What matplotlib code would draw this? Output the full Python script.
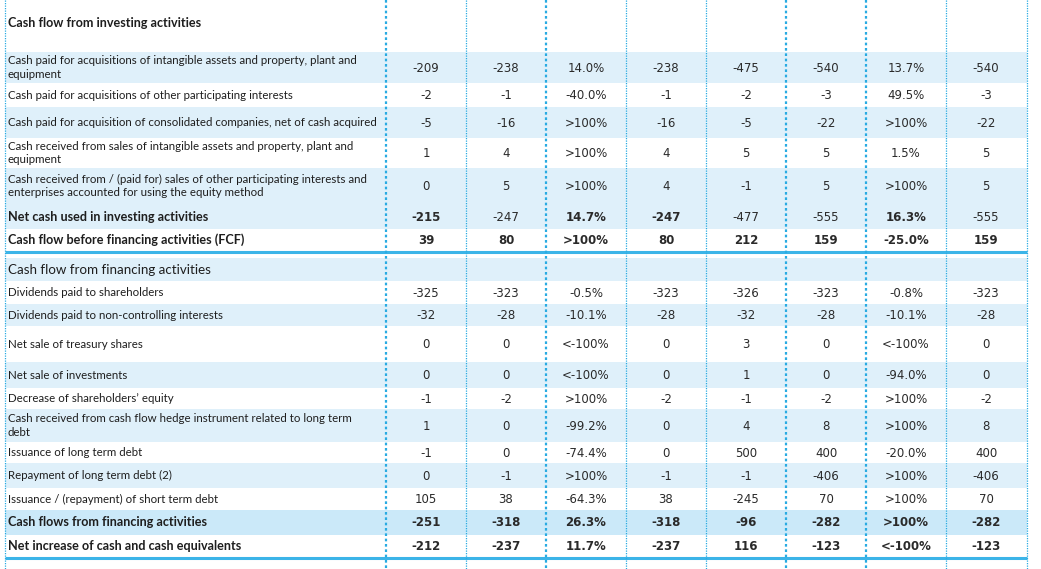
import matplotlib
matplotlib.use("Agg")
import matplotlib.pyplot as plt
from matplotlib.patches import Rectangle

plt.rcParams['font.family'] = ['Lato', 'DejaVu Sans']

# ---------------- data ----------------
labels = [
    "Cash flow from investing activities",
    "Cash paid for acquisitions of intangible assets and property, plant and\nequipment",
    "Cash paid for acquisitions of other participating interests",
    "Cash paid for acquisition of consolidated companies, net of cash acquired",
    "Cash received from sales of intangible assets and property, plant and\nequipment",
    "Cash received from / (paid for) sales of other participating interests and\nenterprises accounted for using the equity method",
    "Net cash used in investing activities",
    "Cash flow before financing activities (FCF)",
    "Cash flow from financing activities",
    "Dividends paid to shareholders",
    "Dividends paid to non-controlling interests",
    "Net sale of treasury shares",
    "Net sale of investments",
    "Decrease of shareholders\u2019 equity",
    "Cash received from cash flow hedge instrument related to long term\ndebt",
    "Issuance of long term debt",
    "Repayment of long term debt (2)",
    "Issuance / (repayment) of short term debt",
    "Cash flows from financing activities",
    "Net increase of cash and cash equivalents",
]

values = [
    None,
    ["-209", "-238", "14.0%", "-238", "-475", "-540", "13.7%", "-540"],
    ["-2", "-1", "-40.0%", "-1", "-2", "-3", "49.5%", "-3"],
    ["-5", "-16", ">100%", "-16", "-5", "-22", ">100%", "-22"],
    ["1", "4", ">100%", "4", "5", "5", "1.5%", "5"],
    ["0", "5", ">100%", "4", "-1", "5", ">100%", "5"],
    ["-215", "-247", "14.7%", "-247", "-477", "-555", "16.3%", "-555"],
    ["39", "80", ">100%", "80", "212", "159", "-25.0%", "159"],
    None,
    ["-325", "-323", "-0.5%", "-323", "-326", "-323", "-0.8%", "-323"],
    ["-32", "-28", "-10.1%", "-28", "-32", "-28", "-10.1%", "-28"],
    ["0", "0", "<-100%", "0", "3", "0", "<-100%", "0"],
    ["0", "0", "<-100%", "0", "1", "0", "-94.0%", "0"],
    ["-1", "-2", ">100%", "-2", "-1", "-2", ">100%", "-2"],
    ["1", "0", "-99.2%", "0", "4", "8", ">100%", "8"],
    ["-1", "0", "-74.4%", "0", "500", "400", "-20.0%", "400"],
    ["0", "-1", ">100%", "-1", "-1", "-406", ">100%", "-406"],
    ["105", "38", "-64.3%", "38", "-245", "70", ">100%", "70"],
    ["-251", "-318", "26.3%", "-318", "-96", "-282", ">100%", "-282"],
    ["-212", "-237", "11.7%", "-237", "116", "-123", "<-100%", "-123"],
]

# ---------------- layout / style ----------------
row_top = [0, 52, 83, 107, 138, 168, 204, 229, 258, 281, 304, 326, 362, 388, 409, 442, 463, 488, 510, 535]
row_bot = [46, 83, 107, 138, 168, 204, 229, 251, 281, 304, 326, 362, 388, 409, 442, 463, 488, 510, 535, 557]
shade = ['none', 'l', 'none', 'l', 'none', 'l', 'l', 'none', 'l', 'none', 'l', 'none', 'l', 'none',
         'l', 'none', 'l', 'none', 'd', 'none']
bold_rows = {0, 6, 7, 18, 19}
row6_weights = ['bold', 'normal', 'bold', 'bold', 'normal', 'normal', 'bold', 'normal']

LIGHT = '#dff0fa'
DARK = '#cbe9f9'
LINE = '#29abe2'
THICK = '#3bb4e8'
TXT = '#1e1e1e'
NUM_TXT = '#2a2a2a'
NUM_FONT = ['DejaVu Sans']

W, H = 1041, 569
x_left = 5
x_first = 386
col_w = 80
ncol = 8
x_right = x_first + col_w * ncol + 1

fig = plt.figure(figsize=(W / 100, H / 100), dpi=100)
ax = fig.add_axes([0, 0, 1, 1])
ax.set_xlim(0, W)
ax.set_ylim(H, 0)
ax.axis('off')

for i, lab in enumerate(labels):
    t, b = row_top[i], row_bot[i]
    if shade[i] != 'none':
        ax.add_patch(Rectangle((x_left, t), x_right - x_left, b - t,
                               facecolor=LIGHT if shade[i] == 'l' else DARK,
                               edgecolor='none', zorder=1))
    yc = (t + b) / 2
    if i == 8:
        ax.text(x_left + 3, yc, lab, fontsize=9.6, color=TXT, va='center', ha='left',
                zorder=3)
    elif i in bold_rows:
        ax.text(x_left + 3, yc, lab, fontsize=9.1, fontweight='bold',
                color=TXT, va='center', ha='left', zorder=3)
    else:
        ax.text(x_left + 3, yc, lab, fontsize=8.3, fontweight='normal',
                color=TXT, va='center', ha='left', linespacing=1.25, zorder=3)
    vals = values[i]
    if vals is None:
        continue
    for j, v in enumerate(vals):
        if i == 6:
            w = row6_weights[j]
        else:
            w = 'bold' if i in bold_rows else 'normal'
        ax.text(x_first + col_w * j + col_w / 2, yc + 0.5, v, fontsize=8.5, fontweight=w,
                family=NUM_FONT, color=NUM_TXT, va='center', ha='center', zorder=3)

# thick separator lines
for y in (252, 558):
    ax.plot([x_left, x_right], [y, y], color=THICK, lw=2.2, zorder=4, solid_capstyle='butt')

# vertical dotted lines
thick_x = {x_first, x_first + 2 * col_w, x_first + 5 * col_w, x_first + 6 * col_w}
xs = [x_left] + [x_first + col_w * k for k in range(ncol + 1)]
xs[-1] = x_right
for x in xs:
    lw = 1.6 if x in thick_x else 0.9
    ax.plot([x, x], [0, H], color=LINE, lw=lw, linestyle=(0, (1.2, 1.2)) if lw > 1 else (0, (1, 1)),
            zorder=5)

fig.savefig('out.png', dpi=100, facecolor='white')
